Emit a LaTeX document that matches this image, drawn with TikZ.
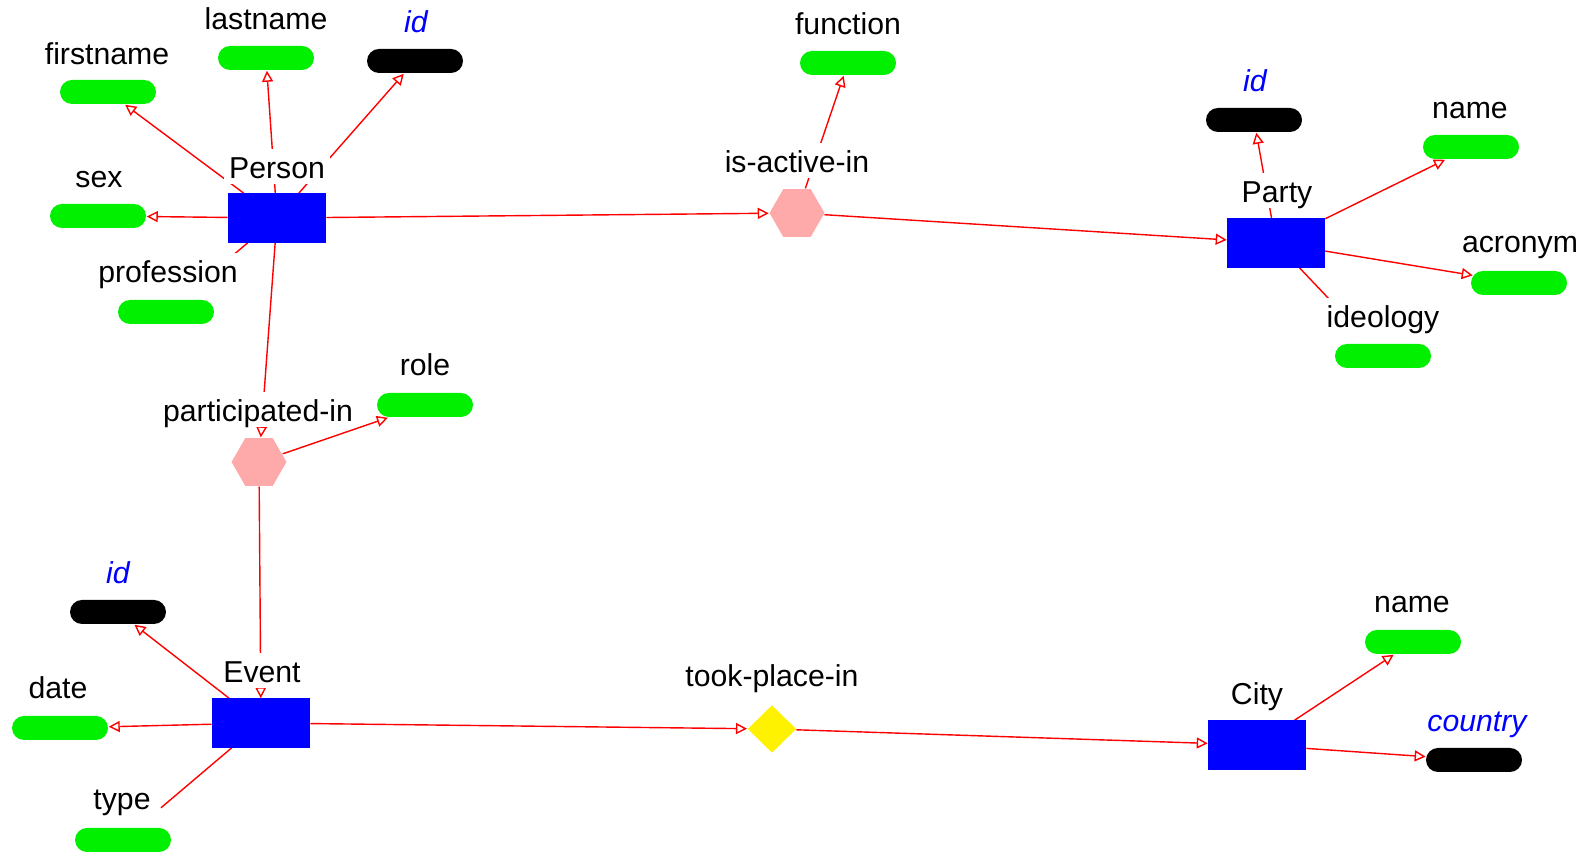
\documentclass[tikz,border=0pt]{standalone}
\usepackage{fontspec}
\setmainfont{Liberation Sans}
\usepackage{tikz}
\usetikzlibrary{arrows.meta}
\usetikzlibrary{shapes.geometric,shapes.misc}
\usetikzlibrary{backgrounds}
\definecolor{attgreen}{RGB}{0,240,0}
\definecolor{relpink}{RGB}{255,170,170}
\tikzset{ent/.style={shape=rectangle, draw=blue, fill=blue, minimum width=9.7mm, minimum height=4.8mm, inner sep=0pt},
att/.style={shape=rounded rectangle, fill=attgreen, minimum width=9.6mm, minimum height=2.4mm, inner sep=0pt},
key/.style={att, fill=black},
rel/.style={shape=regular polygon, regular polygon sides=6, fill=relpink, minimum size=5.5mm, inner sep=0pt},
lab/.style={fill=white, text=black, inner xsep=1.5pt, inner ysep=0.5pt, text height=2.8mm, text depth=0.3mm, anchor=base},
keylab/.style={lab, text=blue, font=\fontsize{8.6}{10}\selectfont\itshape},
lnk/.style={draw=red},
arw/.style={lnk, -{Triangle[open,length=1.1mm,width=1.1mm]}}}

\begin{document}
\begin{tikzpicture}[x=0.1mm, y=-0.1mm, every node/.style={font=\fontsize{8.6}{10}\selectfont}, line width=0.45pt]
                \useasboundingbox (0,0) rectangle (1594,852);

                \node[ent] (P) at (277,218) {};
                \node[att] (Pf) at (108,92) {};
                \node[att] (Pl) at (266,58) {};
                \node[key] (Pi) at (415,61) {};
                \node[att] (Ps) at (98,216) {};
                \node[att] (Pp) at (166,312) {};
                \node[rel] (A) at (797,213) {};
                \node[att] (Af) at (848,63) {};
                \node[ent] (Q) at (1276,243) {};
                \node[key] (Qi) at (1254,120) {};
                \node[att] (Qn) at (1471,147) {};
                \node[att] (Qa) at (1519,283) {};
                \node[att] (Qd) at (1383,356) {};
                \node[rel] (R) at (259,462) {};
                \node[att] (Rr) at (425,405) {};
                \node[ent] (E) at (261,723) {};
                \node[key] (Ei) at (118,612) {};
                \node[att] (Ed) at (60,728) {};
                \node[att] (Et) at (123,840) {};
                \node[shape=diamond, fill=yellow, minimum width=4.9mm, minimum height=4.8mm, inner sep=0pt] (T) at (772,729) {};
                \node[ent] (C) at (1257,745) {};
                \node[att] (Cn) at (1413,642) {};
                \node[key] (Cc) at (1474,760) {};

                \node[lab] (lP) at (277,179) {Person};
                \node[lab] (lPf) at (107,65) {firstname};
                \node[lab] (lPl) at (266,30) {lastname};
                \node[keylab] (lPi) at (416,33) {id};
                \node[lab] (lPs) at (99,188) {sex};
                \node[lab] (lPp) at (168,283) {profession};
                \node[lab] (lA) at (797,173) {is-active-in};
                \node[lab] (lAf) at (848,35) {function};
                \node[lab] (lQ) at (1277,203) {Party};
                \node[keylab] (lQi) at (1255,92) {id};
                \node[lab] (lQn) at (1470,119) {name};
                \node[lab] (lQa) at (1520,253) {acronym};
                \node[lab] (lQd) at (1383,328) {ideology};
                \node[lab] (lR) at (258,422) {participated-in};
                \node[lab] (lRr) at (425,376) {role};
                \node[lab] (lE) at (262,683) {Event};
                \node[keylab] (lEi) at (118,584) {id};
                \node[lab] (lEd) at (58,699) {date};
                \node[lab] (lEt) at (122,810) {type};
                \node[lab] (lT) at (772,687) {took-place-in};
                \node[lab] (lC) at (1257,705) {City};
                \node[lab] (lCn) at (1412,613) {name};
                \node[keylab] (lCc) at (1477,732) {country};

                \begin{scope}[on background layer]
                \draw[arw] (P) -- (Pf);
                \draw[arw] (P) -- (Pl);
                \draw[arw] (P) -- (Pi);
                \draw[arw] (P) -- (Ps);
                \draw[lnk, shorten >=3mm] (P) -- (Pp);
                \draw[arw] (P) -- (A);
                \draw[arw] (A) -- (Af);
                \draw[arw] (A) -- (Q);
                \draw[arw] (Q) -- (Qi);
                \draw[arw] (Q) -- (Qn);
                \draw[arw] (Q) -- (Qa);
                \draw[lnk, shorten >=3mm] (Q) -- (Qd);
                \draw[arw] (P) -- (R);
                \draw[arw] (R) -- (Rr);
                \draw[arw] (R) -- (E);
                \draw[arw] (E) -- (Ei);
                \draw[arw] (E) -- (Ed);
                \draw[lnk, shorten >=3mm] (E) -- (Et);
                \draw[arw] (E) -- (T);
                \draw[arw] (T) -- (C);
                \draw[arw] (C) -- (Cn);
                \draw[arw] (C) -- (Cc);
                \end{scope}

            \end{tikzpicture}
\end{document}
